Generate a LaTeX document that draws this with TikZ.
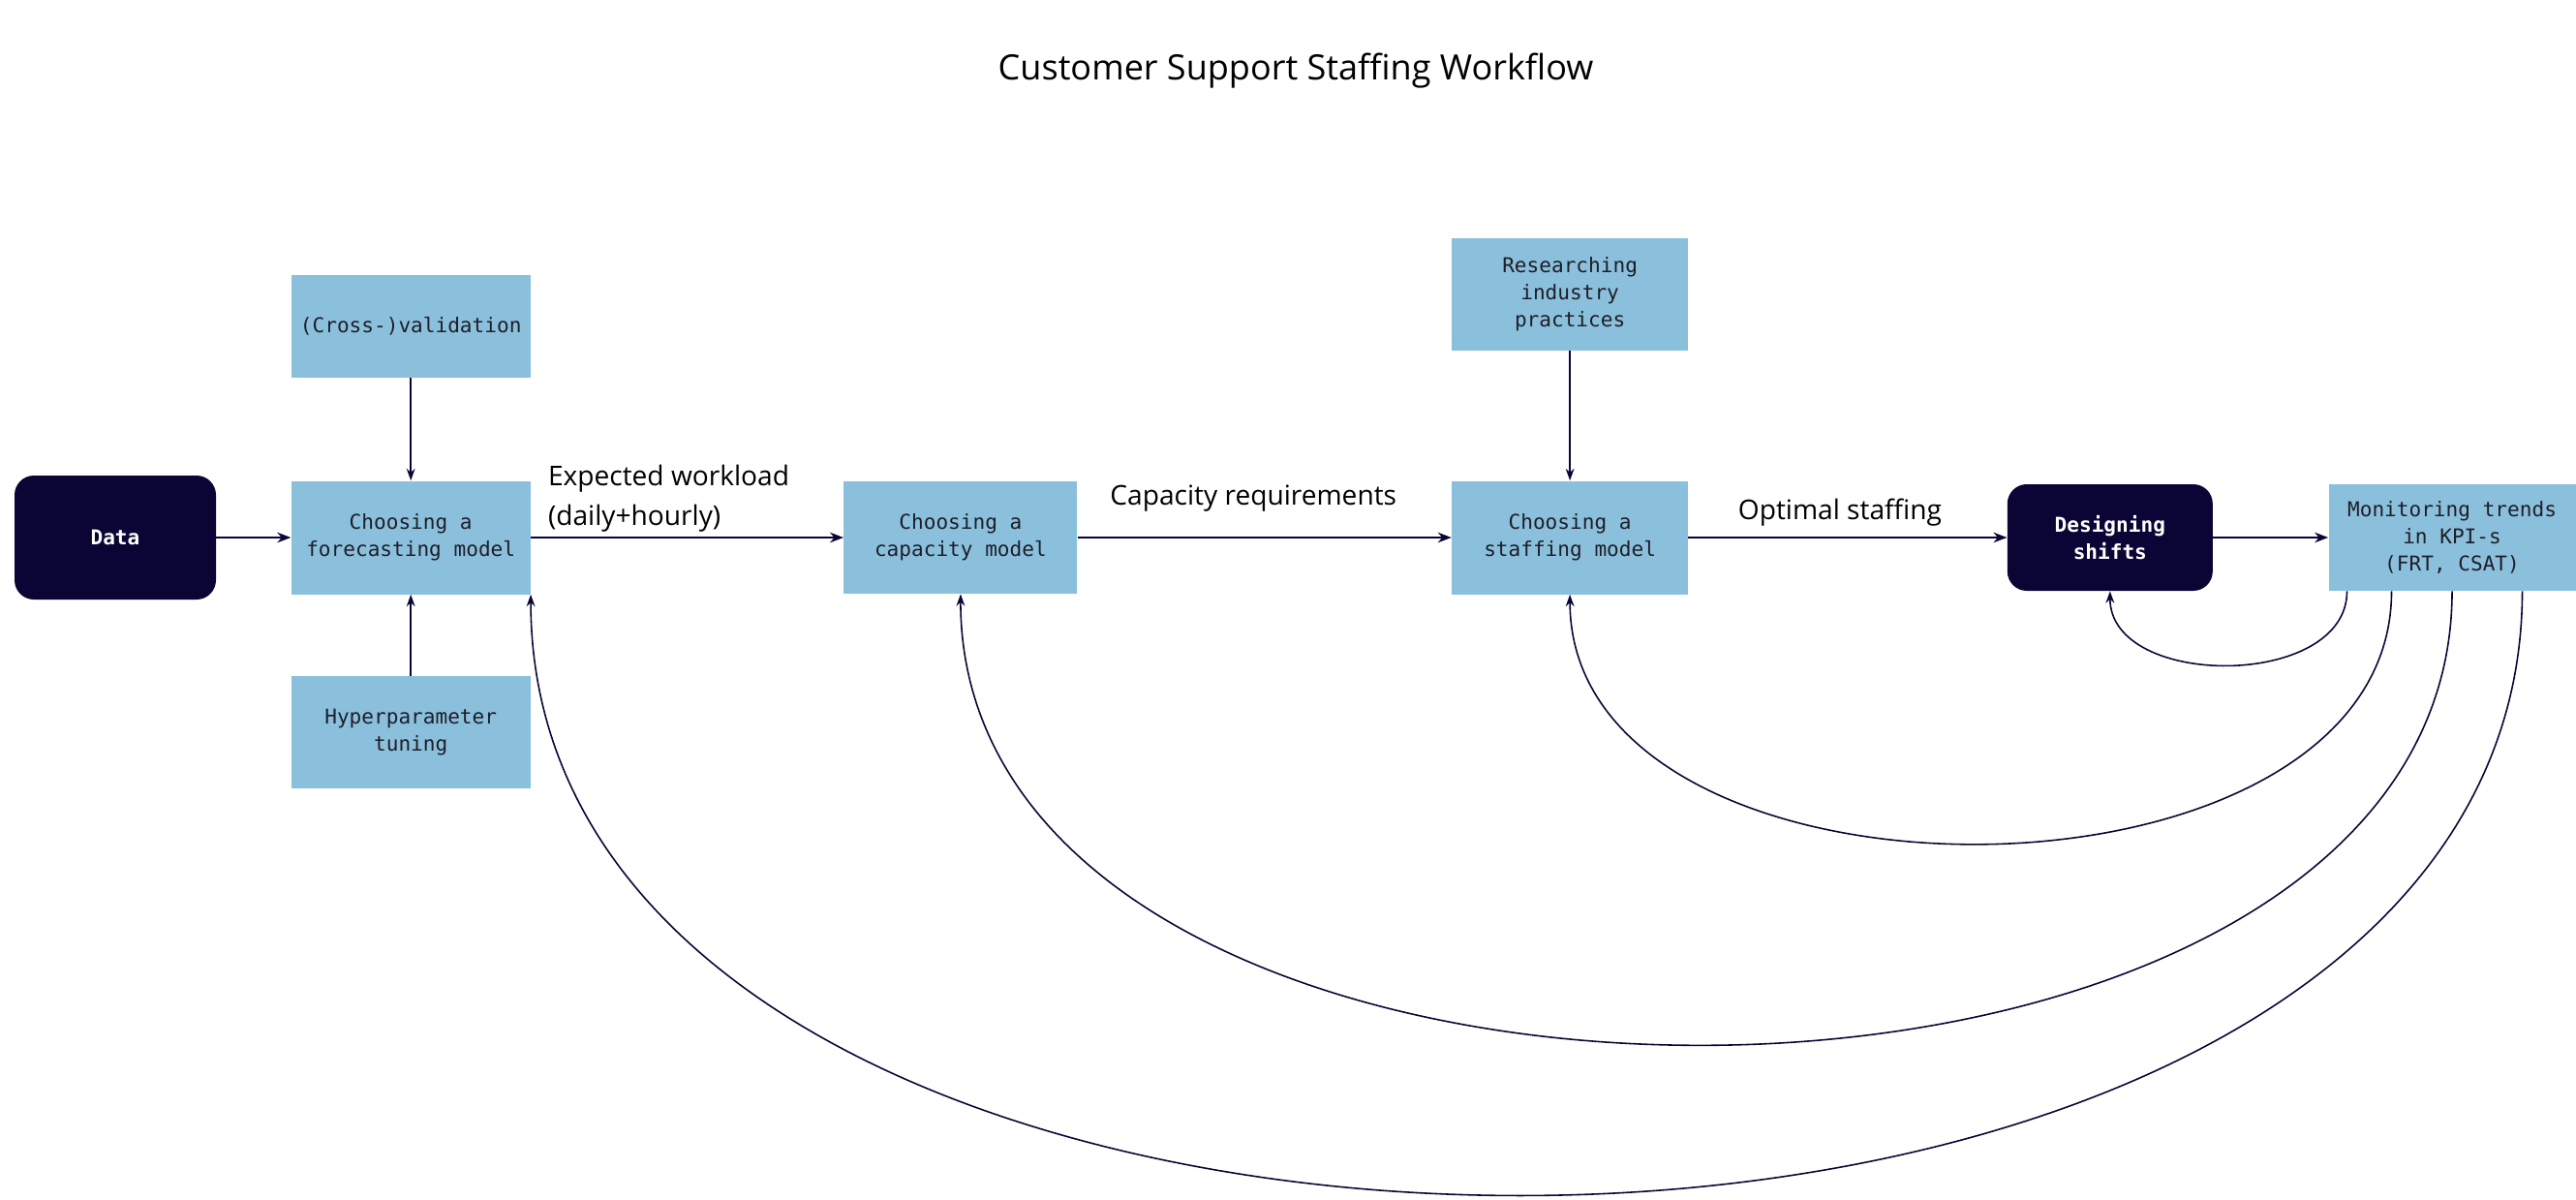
\documentclass[tikz,border=0pt]{standalone}
\usepackage{xcolor}
\usepackage{fontspec}
\usepackage{tikz}
\usetikzlibrary{arrows.meta,positioning}
\setmainfont{Open Sans}
\setmonofont{DejaVu Sans Mono}
\definecolor{boxblue}{RGB}{139,192,221}
\definecolor{navy}{RGB}{10,5,52}
\definecolor{boxtext}{RGB}{30,30,40}

\begin{document}
\begin{tikzpicture}[
		node distance=1.5cm,
		box/.style={fill=boxblue, minimum width=4.9cm, minimum height=2.32cm, inner sep=0pt, align=center, text=boxtext, font=\ttfamily\fontsize{12}{16}\selectfont},
		darkbox/.style={fill=navy, rounded corners=0.4cm, inner sep=0pt, align=center, text=white, font=\ttfamily\bfseries\fontsize{12}{16}\selectfont},
		lbl/.style={inner sep=0pt, align=left, font=\fontsize{16}{23}\selectfont},
		arrow/.style={-{Stealth[length=8pt,width=6pt]}, line width=1.1pt, draw=navy},
		feed/.style={-{Stealth[length=7pt,width=5pt]}, line width=0.9pt, draw=navy}
	]
	\useasboundingbox (0,0) rectangle (53.2,-24.76);

	\node[anchor=base, font=\fontsize{20.5}{24}\selectfont] (title) at (26.76,-1.64) {Customer Support Staffing Workflow};

	\node[darkbox, minimum width=4.16cm, minimum height=2.56cm] (data) at (2.38,-11.1) {Data};
	\node[box, minimum width=4.94cm, minimum height=2.34cm, right=1.54cm of data] (fore) {Choosing a\\forecasting model};
	\node[box, minimum width=4.94cm, minimum height=2.12cm, above=2.12cm of fore] (valid) {(Cross-)validation};
	\node[box, minimum width=4.94cm, below=1.68cm of fore] (hyper) {Hyperparameter\\tuning};
	\node[box, minimum width=4.82cm, right=6.46cm of fore] (cap) {Choosing a\\capacity model};
	\node[box, minimum width=4.88cm, minimum height=2.34cm, right=7.72cm of cap] (staff) {Choosing a\\staffing model};
	\node[box, minimum width=4.88cm, above=2.68cm of staff] (research) {Researching\\industry\\practices};
	\node[darkbox, minimum width=4.24cm, minimum height=2.2cm, right=6.58cm of staff] (design) {Designing\\shifts};
	\node[box, minimum width=5.1cm, minimum height=2.2cm, right=2.38cm of design] (mon) {Monitoring trends\\in KPI-s\\(FRT, CSAT)};

	\draw[arrow] (data) -- (fore);
	\draw[arrow] (fore) -- (cap) node[lbl, pos=0, anchor=south west, xshift=0.34cm, yshift=0.1cm] {Expected workload\\(daily+hourly)};
	\draw[arrow] (cap) -- (staff) node[lbl, midway, above=0.52cm, xshift=-0.23cm] {Capacity requirements};
	\draw[arrow] (staff) -- (design) node[lbl, midway, above=0.22cm, xshift=-0.16cm] {Optimal staffing};
	\draw[arrow] (design) -- (mon);

	\draw[feed] (valid) -- (fore);
	\draw[feed] (hyper) -- (fore);
	\draw[feed] (research) -- (staff);

	\draw[feed] ([xshift=-2.17cm]mon.south) .. controls +(0,-2.03) and +(0,-2.03) .. (design.south);
	\draw[feed] ([xshift=-1.25cm]mon.south) .. controls +(0,-6.9) and +(0,-6.9) .. (staff.south);
	\draw[feed] (mon.south) .. controls +(0,-12.44) and +(0,-12.44) .. (cap.south);
	\draw[feed] ([xshift=1.45cm]mon.south) .. controls +(0,-16.57) and +(0,-16.57) .. (fore.south east);

\end{tikzpicture}
\end{document}
